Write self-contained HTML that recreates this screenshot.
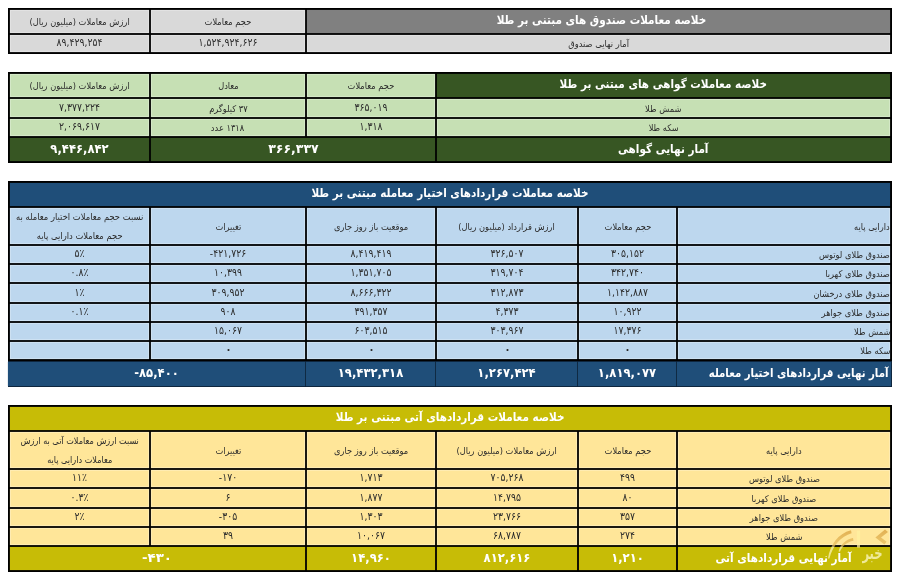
<!DOCTYPE html>
<html lang="fa" dir="ltr">
<head>
<meta charset="utf-8">
<title>خلاصه معاملات مبتنی بر طلا</title>
<style>
html,body{margin:0;padding:0;background:#fff;}
body{width:900px;height:580px;position:relative;overflow:hidden;font-family:"DejaVu Sans", "Liberation Sans", sans-serif;}
#sheet{position:absolute;left:0;top:0;width:900px;height:580px;will-change:transform;}
.k{position:absolute;}
.c{position:absolute;display:flex;align-items:center;justify-content:center;white-space:nowrap;color:#2b2b2b;direction:rtl;overflow:hidden;}
.c.r{justify-content:flex-start;}
.h,.h2,.n{box-shadow:inset 0 0 0 1px rgba(255,255,255,0.25);}
.c span{display:inline-block;}
.t{font-weight:bold;color:#fff;font-size:11.6px;}
.tt{font-weight:bold;color:#fff;font-size:11.6px;}
.tn{font-weight:bold;color:#fff;font-size:11.6px;}
.h{font-size:9.2px;}
.h2{font-size:9.3px;line-height:19px;text-align:center;}
.n{font-size:9.3px;}
.n span,.tn span{direction:ltr;unicode-bidi:bidi-override;}
.c.r span{transform-origin:right center;}
</style>
</head>
<body>
<div id="sheet">
<svg class="k" style="left:0;top:0" width="900" height="580" viewBox="0 0 900 580"><rect x="8" y="8" width="884" height="46" fill="#000"/><rect x="8" y="72" width="884" height="91" fill="#000"/><rect x="8" y="181" width="884" height="180" fill="#000"/><rect x="8" y="361" width="884" height="26" fill="#0d2238"/><rect x="8" y="405" width="884" height="167" fill="#000"/><rect x="306.9" y="9.9" width="583.2" height="23.2" fill="#808080"/><rect x="150.9" y="9.9" width="154.2" height="23.2" fill="#d9d9d9"/><rect x="9.9" y="9.9" width="139.2" height="23.2" fill="#d9d9d9"/><rect x="306.9" y="34.9" width="583.2" height="17.2" fill="#d9d9d9"/><rect x="150.9" y="34.9" width="154.2" height="17.2" fill="#d9d9d9"/><rect x="9.9" y="34.9" width="139.2" height="17.2" fill="#d9d9d9"/><rect x="436.9" y="73.9" width="453.2" height="23.2" fill="#375623"/><rect x="306.9" y="73.9" width="128.2" height="23.2" fill="#c6e0b4"/><rect x="150.9" y="73.9" width="154.2" height="23.2" fill="#c6e0b4"/><rect x="9.9" y="73.9" width="139.2" height="23.2" fill="#c6e0b4"/><rect x="436.9" y="98.9" width="453.2" height="18.2" fill="#c6e0b4"/><rect x="306.9" y="98.9" width="128.2" height="18.2" fill="#c6e0b4"/><rect x="150.9" y="98.9" width="154.2" height="18.2" fill="#c6e0b4"/><rect x="9.9" y="98.9" width="139.2" height="18.2" fill="#c6e0b4"/><rect x="436.9" y="118.9" width="453.2" height="17.2" fill="#c6e0b4"/><rect x="306.9" y="118.9" width="128.2" height="17.2" fill="#c6e0b4"/><rect x="150.9" y="118.9" width="154.2" height="17.2" fill="#c6e0b4"/><rect x="9.9" y="118.9" width="139.2" height="17.2" fill="#c6e0b4"/><rect x="436.9" y="137.9" width="453.2" height="23.2" fill="#375623"/><rect x="150.9" y="137.9" width="284.2" height="23.2" fill="#375623"/><rect x="9.9" y="137.9" width="139.2" height="23.2" fill="#375623"/><rect x="9.9" y="182.9" width="880.2" height="23.2" fill="#1f4e79"/><rect x="677.9" y="207.9" width="212.2" height="36.2" fill="#bdd7ee"/><rect x="578.9" y="207.9" width="97.2" height="36.2" fill="#bdd7ee"/><rect x="436.9" y="207.9" width="140.2" height="36.2" fill="#bdd7ee"/><rect x="306.9" y="207.9" width="128.2" height="36.2" fill="#bdd7ee"/><rect x="150.9" y="207.9" width="154.2" height="36.2" fill="#bdd7ee"/><rect x="9.9" y="207.9" width="139.2" height="36.2" fill="#bdd7ee"/><rect x="677.9" y="245.9" width="212.2" height="17.2" fill="#bdd7ee"/><rect x="578.9" y="245.9" width="97.2" height="17.2" fill="#bdd7ee"/><rect x="436.9" y="245.9" width="140.2" height="17.2" fill="#bdd7ee"/><rect x="306.9" y="245.9" width="128.2" height="17.2" fill="#bdd7ee"/><rect x="150.9" y="245.9" width="154.2" height="17.2" fill="#bdd7ee"/><rect x="9.9" y="245.9" width="139.2" height="17.2" fill="#bdd7ee"/><rect x="677.9" y="264.9" width="212.2" height="17.2" fill="#bdd7ee"/><rect x="578.9" y="264.9" width="97.2" height="17.2" fill="#bdd7ee"/><rect x="436.9" y="264.9" width="140.2" height="17.2" fill="#bdd7ee"/><rect x="306.9" y="264.9" width="128.2" height="17.2" fill="#bdd7ee"/><rect x="150.9" y="264.9" width="154.2" height="17.2" fill="#bdd7ee"/><rect x="9.9" y="264.9" width="139.2" height="17.2" fill="#bdd7ee"/><rect x="677.9" y="283.9" width="212.2" height="18.2" fill="#bdd7ee"/><rect x="578.9" y="283.9" width="97.2" height="18.2" fill="#bdd7ee"/><rect x="436.9" y="283.9" width="140.2" height="18.2" fill="#bdd7ee"/><rect x="306.9" y="283.9" width="128.2" height="18.2" fill="#bdd7ee"/><rect x="150.9" y="283.9" width="154.2" height="18.2" fill="#bdd7ee"/><rect x="9.9" y="283.9" width="139.2" height="18.2" fill="#bdd7ee"/><rect x="677.9" y="303.9" width="212.2" height="17.2" fill="#bdd7ee"/><rect x="578.9" y="303.9" width="97.2" height="17.2" fill="#bdd7ee"/><rect x="436.9" y="303.9" width="140.2" height="17.2" fill="#bdd7ee"/><rect x="306.9" y="303.9" width="128.2" height="17.2" fill="#bdd7ee"/><rect x="150.9" y="303.9" width="154.2" height="17.2" fill="#bdd7ee"/><rect x="9.9" y="303.9" width="139.2" height="17.2" fill="#bdd7ee"/><rect x="677.9" y="322.9" width="212.2" height="17.2" fill="#bdd7ee"/><rect x="578.9" y="322.9" width="97.2" height="17.2" fill="#bdd7ee"/><rect x="436.9" y="322.9" width="140.2" height="17.2" fill="#bdd7ee"/><rect x="306.9" y="322.9" width="128.2" height="17.2" fill="#bdd7ee"/><rect x="150.9" y="322.9" width="154.2" height="17.2" fill="#bdd7ee"/><rect x="9.9" y="322.9" width="139.2" height="17.2" fill="#bdd7ee"/><rect x="677.9" y="341.9" width="212.2" height="17.2" fill="#bdd7ee"/><rect x="578.9" y="341.9" width="97.2" height="17.2" fill="#bdd7ee"/><rect x="436.9" y="341.9" width="140.2" height="17.2" fill="#bdd7ee"/><rect x="306.9" y="341.9" width="128.2" height="17.2" fill="#bdd7ee"/><rect x="150.9" y="341.9" width="154.2" height="17.2" fill="#bdd7ee"/><rect x="9.9" y="341.9" width="139.2" height="17.2" fill="#bdd7ee"/><rect x="7.9" y="361.9" width="297.2" height="24.2" fill="#1f4e79"/><rect x="305.9" y="361.9" width="129.2" height="24.2" fill="#1f4e79"/><rect x="435.9" y="361.9" width="141.2" height="24.2" fill="#1f4e79"/><rect x="577.9" y="361.9" width="98.2" height="24.2" fill="#1f4e79"/><rect x="676.9" y="361.9" width="214.2" height="24.2" fill="#1f4e79"/><rect x="9.9" y="406.9" width="880.2" height="23.2" fill="#c7bc06"/><rect x="677.9" y="431.9" width="212.2" height="36.2" fill="#ffe699"/><rect x="578.9" y="431.9" width="97.2" height="36.2" fill="#ffe699"/><rect x="436.9" y="431.9" width="140.2" height="36.2" fill="#ffe699"/><rect x="306.9" y="431.9" width="128.2" height="36.2" fill="#ffe699"/><rect x="150.9" y="431.9" width="154.2" height="36.2" fill="#ffe699"/><rect x="9.9" y="431.9" width="139.2" height="36.2" fill="#ffe699"/><rect x="677.9" y="469.9" width="212.2" height="17.2" fill="#ffe699"/><rect x="578.9" y="469.9" width="97.2" height="17.2" fill="#ffe699"/><rect x="436.9" y="469.9" width="140.2" height="17.2" fill="#ffe699"/><rect x="306.9" y="469.9" width="128.2" height="17.2" fill="#ffe699"/><rect x="150.9" y="469.9" width="154.2" height="17.2" fill="#ffe699"/><rect x="9.9" y="469.9" width="139.2" height="17.2" fill="#ffe699"/><rect x="677.9" y="488.9" width="212.2" height="18.2" fill="#ffe699"/><rect x="578.9" y="488.9" width="97.2" height="18.2" fill="#ffe699"/><rect x="436.9" y="488.9" width="140.2" height="18.2" fill="#ffe699"/><rect x="306.9" y="488.9" width="128.2" height="18.2" fill="#ffe699"/><rect x="150.9" y="488.9" width="154.2" height="18.2" fill="#ffe699"/><rect x="9.9" y="488.9" width="139.2" height="18.2" fill="#ffe699"/><rect x="677.9" y="508.9" width="212.2" height="17.2" fill="#ffe699"/><rect x="578.9" y="508.9" width="97.2" height="17.2" fill="#ffe699"/><rect x="436.9" y="508.9" width="140.2" height="17.2" fill="#ffe699"/><rect x="306.9" y="508.9" width="128.2" height="17.2" fill="#ffe699"/><rect x="150.9" y="508.9" width="154.2" height="17.2" fill="#ffe699"/><rect x="9.9" y="508.9" width="139.2" height="17.2" fill="#ffe699"/><rect x="677.9" y="527.9" width="212.2" height="17.2" fill="#ffe699"/><rect x="578.9" y="527.9" width="97.2" height="17.2" fill="#ffe699"/><rect x="436.9" y="527.9" width="140.2" height="17.2" fill="#ffe699"/><rect x="306.9" y="527.9" width="128.2" height="17.2" fill="#ffe699"/><rect x="150.9" y="527.9" width="154.2" height="17.2" fill="#ffe699"/><rect x="9.9" y="527.9" width="139.2" height="17.2" fill="#ffe699"/><rect x="677.9" y="546.9" width="212.2" height="23.2" fill="#c7bc06"/><rect x="578.9" y="546.9" width="97.2" height="23.2" fill="#c7bc06"/><rect x="436.9" y="546.9" width="140.2" height="23.2" fill="#c7bc06"/><rect x="306.9" y="546.9" width="128.2" height="23.2" fill="#c7bc06"/><rect x="9.9" y="546.9" width="295.2" height="23.2" fill="#c7bc06"/></svg>
<div class="c t" style="left:307px;top:10px;width:583px;height:23px"><span style="transform:translate(3px,-1.7px) scale(0.9,1)">خلاصه معاملات صندوق های مبتنی بر طلا</span></div>
<div class="c h" style="left:151px;top:10px;width:154px;height:23px"><span style="transform:translate(0px,0px) scale(0.9,1)">حجم معاملات</span></div>
<div class="c h" style="left:10px;top:10px;width:139px;height:23px"><span style="transform:translate(0px,0px) scale(0.9,1)">ارزش معاملات (میلیون ریال)</span></div>
<div class="c h" style="left:307px;top:35px;width:583px;height:17px"><span style="transform:translate(0px,0px) scale(0.9,1)">آمار نهایی صندوق</span></div>
<div class="c n" style="left:151px;top:35px;width:154px;height:17px"><span style="transform:translate(0px,-1.6px) scale(1,1.15)">۱,۵۲۴,۹۲۴,۶۲۶</span></div>
<div class="c n" style="left:10px;top:35px;width:139px;height:17px"><span style="transform:translate(0px,-1.6px) scale(1,1.15)">۸۹,۴۲۹,۲۵۴</span></div>
<div class="c t" style="left:437px;top:74px;width:453px;height:23px"><span style="transform:translate(0px,-1.7px) scale(0.9,1)">خلاصه معاملات گواهی های مبتنی بر طلا</span></div>
<div class="c h" style="left:307px;top:74px;width:128px;height:23px"><span style="transform:translate(0px,0px) scale(0.9,1)">حجم معاملات</span></div>
<div class="c h" style="left:151px;top:74px;width:154px;height:23px"><span style="transform:translate(0px,0px) scale(0.9,1)">معادل</span></div>
<div class="c h" style="left:10px;top:74px;width:139px;height:23px"><span style="transform:translate(0px,0px) scale(0.9,1)">ارزش معاملات (میلیون ریال)</span></div>
<div class="c h" style="left:437px;top:99px;width:453px;height:18px"><span style="transform:translate(0px,0px) scale(0.9,1)">شمش طلا</span></div>
<div class="c n" style="left:307px;top:99px;width:128px;height:18px"><span style="transform:translate(0px,-1.6px) scale(1,1.15)">۳۶۵,۰۱۹</span></div>
<div class="c h" style="left:151px;top:99px;width:154px;height:18px"><span style="transform:translate(0px,0px) scale(0.9,1)">۳۷ کیلوگرم</span></div>
<div class="c n" style="left:10px;top:99px;width:139px;height:18px"><span style="transform:translate(0px,-1.6px) scale(1,1.15)">۷,۳۷۷,۲۲۴</span></div>
<div class="c h" style="left:437px;top:119px;width:453px;height:17px"><span style="transform:translate(0px,0px) scale(0.9,1)">سکه طلا</span></div>
<div class="c n" style="left:307px;top:119px;width:128px;height:17px"><span style="transform:translate(0px,-1.6px) scale(1,1.15)">۱,۳۱۸</span></div>
<div class="c h" style="left:151px;top:119px;width:154px;height:17px"><span style="transform:translate(0px,0px) scale(0.9,1)">۱۳۱۸ عدد</span></div>
<div class="c n" style="left:10px;top:119px;width:139px;height:17px"><span style="transform:translate(0px,-1.6px) scale(1,1.15)">۲,۰۶۹,۶۱۷</span></div>
<div class="c tt" style="left:437px;top:138px;width:453px;height:23px"><span style="transform:translate(0px,-1px) scale(0.9,1)">آمار نهایی گواهی</span></div>
<div class="c tn" style="left:151px;top:138px;width:284px;height:23px"><span style="transform:translate(0px,-1.3px) scale(1.08,1.1)">۳۶۶,۳۳۷</span></div>
<div class="c tn" style="left:10px;top:138px;width:139px;height:23px"><span style="transform:translate(0px,-1.3px) scale(1,1.1)">۹,۴۴۶,۸۴۲</span></div>
<div class="c t" style="left:10px;top:183px;width:880px;height:23px"><span style="transform:translate(0px,-1.7px) scale(0.9,1)">خلاصه معاملات قراردادهای اختیار معامله مبتنی بر طلا</span></div>
<div class="c h r" style="left:678px;top:208px;width:212px;height:36px"><span style="transform:translate(0px,0px) scale(0.9,1)">دارایی پایه</span></div>
<div class="c h" style="left:579px;top:208px;width:97px;height:36px"><span style="transform:translate(0px,0px) scale(0.9,1)">حجم معاملات</span></div>
<div class="c h" style="left:437px;top:208px;width:140px;height:36px"><span style="transform:translate(0px,0px) scale(0.9,1)">ارزش قرارداد (میلیون ریال)</span></div>
<div class="c h" style="left:307px;top:208px;width:128px;height:36px"><span style="transform:translate(0px,0px) scale(0.9,1)">موقعیت باز روز جاری</span></div>
<div class="c h" style="left:151px;top:208px;width:154px;height:36px"><span style="transform:translate(0px,0px) scale(0.9,1)">تغییرات</span></div>
<div class="c h2" style="left:10px;top:208px;width:139px;height:36px"><span style="transform:translate(0px,0px) scale(0.9,1)">نسبت حجم معاملات اختیار معامله به<br>حجم معاملات دارایی پایه</span></div>
<div class="c h r" style="left:678px;top:246px;width:212px;height:17px"><span style="transform:translate(0px,0px) scale(0.9,1)">صندوق طلای لوتوس</span></div>
<div class="c n" style="left:579px;top:246px;width:97px;height:17px"><span style="transform:translate(0px,-1.6px) scale(1,1.15)">۳۰۵,۱۵۲</span></div>
<div class="c n" style="left:437px;top:246px;width:140px;height:17px"><span style="transform:translate(0px,-1.6px) scale(1,1.15)">۳۲۶,۵۰۷</span></div>
<div class="c n" style="left:307px;top:246px;width:128px;height:17px"><span style="transform:translate(0px,-1.6px) scale(1,1.15)">۸,۴۱۹,۴۱۹</span></div>
<div class="c n" style="left:151px;top:246px;width:154px;height:17px"><span style="transform:translate(0px,-1.6px) scale(1,1.15)">-۴۲۱,۷۲۶</span></div>
<div class="c n" style="left:10px;top:246px;width:139px;height:17px"><span style="transform:translate(0px,-1.6px) scale(1,1.15)">۵٪</span></div>
<div class="c h r" style="left:678px;top:265px;width:212px;height:17px"><span style="transform:translate(0px,0px) scale(0.9,1)">صندوق طلای کهربا</span></div>
<div class="c n" style="left:579px;top:265px;width:97px;height:17px"><span style="transform:translate(0px,-1.6px) scale(1,1.15)">۳۴۲,۷۴۰</span></div>
<div class="c n" style="left:437px;top:265px;width:140px;height:17px"><span style="transform:translate(0px,-1.6px) scale(1,1.15)">۳۱۹,۷۰۴</span></div>
<div class="c n" style="left:307px;top:265px;width:128px;height:17px"><span style="transform:translate(0px,-1.6px) scale(1,1.15)">۱,۳۵۱,۷۰۵</span></div>
<div class="c n" style="left:151px;top:265px;width:154px;height:17px"><span style="transform:translate(0px,-1.6px) scale(1,1.15)">۱۰,۳۹۹</span></div>
<div class="c n" style="left:10px;top:265px;width:139px;height:17px"><span style="transform:translate(0px,-1.6px) scale(1,1.15)">۰.۸٪</span></div>
<div class="c h r" style="left:678px;top:284px;width:212px;height:18px"><span style="transform:translate(0px,0px) scale(0.9,1)">صندوق طلای درخشان</span></div>
<div class="c n" style="left:579px;top:284px;width:97px;height:18px"><span style="transform:translate(0px,-1.6px) scale(1,1.15)">۱,۱۴۲,۸۸۷</span></div>
<div class="c n" style="left:437px;top:284px;width:140px;height:18px"><span style="transform:translate(0px,-1.6px) scale(1,1.15)">۳۱۲,۸۷۳</span></div>
<div class="c n" style="left:307px;top:284px;width:128px;height:18px"><span style="transform:translate(0px,-1.6px) scale(1,1.15)">۸,۶۶۶,۳۲۲</span></div>
<div class="c n" style="left:151px;top:284px;width:154px;height:18px"><span style="transform:translate(0px,-1.6px) scale(1,1.15)">۳۰۹,۹۵۲</span></div>
<div class="c n" style="left:10px;top:284px;width:139px;height:18px"><span style="transform:translate(0px,-1.6px) scale(1,1.15)">۱٪</span></div>
<div class="c h r" style="left:678px;top:304px;width:212px;height:17px"><span style="transform:translate(0px,0px) scale(0.9,1)">صندوق طلای جواهر</span></div>
<div class="c n" style="left:579px;top:304px;width:97px;height:17px"><span style="transform:translate(0px,-1.6px) scale(1,1.15)">۱۰,۹۲۲</span></div>
<div class="c n" style="left:437px;top:304px;width:140px;height:17px"><span style="transform:translate(0px,-1.6px) scale(1,1.15)">۴,۳۷۳</span></div>
<div class="c n" style="left:307px;top:304px;width:128px;height:17px"><span style="transform:translate(0px,-1.6px) scale(1,1.15)">۳۹۱,۳۵۷</span></div>
<div class="c n" style="left:151px;top:304px;width:154px;height:17px"><span style="transform:translate(0px,-1.6px) scale(1,1.15)">۹۰۸</span></div>
<div class="c n" style="left:10px;top:304px;width:139px;height:17px"><span style="transform:translate(0px,-1.6px) scale(1,1.15)">۰.۱٪</span></div>
<div class="c h r" style="left:678px;top:323px;width:212px;height:17px"><span style="transform:translate(0px,0px) scale(0.9,1)">شمش طلا</span></div>
<div class="c n" style="left:579px;top:323px;width:97px;height:17px"><span style="transform:translate(0px,-1.6px) scale(1,1.15)">۱۷,۳۷۶</span></div>
<div class="c n" style="left:437px;top:323px;width:140px;height:17px"><span style="transform:translate(0px,-1.6px) scale(1,1.15)">۳۰۳,۹۶۷</span></div>
<div class="c n" style="left:307px;top:323px;width:128px;height:17px"><span style="transform:translate(0px,-1.6px) scale(1,1.15)">۶۰۳,۵۱۵</span></div>
<div class="c n" style="left:151px;top:323px;width:154px;height:17px"><span style="transform:translate(0px,-1.6px) scale(1,1.15)">۱۵,۰۶۷</span></div>
<div class="c n" style="left:10px;top:323px;width:139px;height:17px"></div>
<div class="c h r" style="left:678px;top:342px;width:212px;height:17px"><span style="transform:translate(0px,0px) scale(0.9,1)">سکه طلا</span></div>
<div class="c n" style="left:579px;top:342px;width:97px;height:17px"><span style="transform:translate(0px,-1.6px) scale(1.7,1.725)">۰</span></div>
<div class="c n" style="left:437px;top:342px;width:140px;height:17px"><span style="transform:translate(0px,-1.6px) scale(1.7,1.725)">۰</span></div>
<div class="c n" style="left:307px;top:342px;width:128px;height:17px"><span style="transform:translate(0px,-1.6px) scale(1.7,1.725)">۰</span></div>
<div class="c n" style="left:151px;top:342px;width:154px;height:17px"><span style="transform:translate(0px,-1.6px) scale(1.7,1.725)">۰</span></div>
<div class="c n" style="left:10px;top:342px;width:139px;height:17px"></div>
<div class="c tn" style="left:8px;top:362px;width:297px;height:24px"><span style="transform:translate(0px,-1.3px) scale(1,1.1)">-۸۵,۴۰۰</span></div>
<div class="c tn" style="left:306px;top:362px;width:129px;height:24px"><span style="transform:translate(0px,-1.3px) scale(1,1.1)">۱۹,۴۳۲,۳۱۸</span></div>
<div class="c tn" style="left:436px;top:362px;width:141px;height:24px"><span style="transform:translate(0px,-1.3px) scale(1,1.1)">۱,۲۶۷,۴۲۴</span></div>
<div class="c tn" style="left:578px;top:362px;width:98px;height:24px"><span style="transform:translate(0px,-1.3px) scale(1,1.1)">۱,۸۱۹,۰۷۷</span></div>
<div class="c tt r" style="left:677px;top:362px;width:214px;height:24px"><span style="transform:translate(-2.5px,-1px) scale(0.877,1)">آمار نهایی قراردادهای اختیار معامله</span></div>
<div class="c t" style="left:10px;top:407px;width:880px;height:23px"><span style="transform:translate(0px,-1.7px) scale(0.9,1)">خلاصه معاملات قراردادهای آتی مبتنی بر طلا</span></div>
<div class="c h" style="left:678px;top:432px;width:212px;height:36px"><span style="transform:translate(0px,0px) scale(0.9,1)">دارایی پایه</span></div>
<div class="c h" style="left:579px;top:432px;width:97px;height:36px"><span style="transform:translate(0px,0px) scale(0.9,1)">حجم معاملات</span></div>
<div class="c h" style="left:437px;top:432px;width:140px;height:36px"><span style="transform:translate(0px,0px) scale(0.9,1)">ارزش معاملات (میلیون ریال)</span></div>
<div class="c h" style="left:307px;top:432px;width:128px;height:36px"><span style="transform:translate(0px,0px) scale(0.9,1)">موقعیت باز روز جاری</span></div>
<div class="c h" style="left:151px;top:432px;width:154px;height:36px"><span style="transform:translate(0px,0px) scale(0.9,1)">تغییرات</span></div>
<div class="c h2" style="left:10px;top:432px;width:139px;height:36px"><span style="transform:translate(0px,0px) scale(0.873,1)">نسبت ارزش معاملات آتی به ارزش<br>معاملات دارایی پایه</span></div>
<div class="c h" style="left:678px;top:470px;width:212px;height:17px"><span style="transform:translate(0px,0px) scale(0.9,1)">صندوق طلای لوتوس</span></div>
<div class="c n" style="left:579px;top:470px;width:97px;height:17px"><span style="transform:translate(0px,-1.6px) scale(1,1.15)">۴۹۹</span></div>
<div class="c n" style="left:437px;top:470px;width:140px;height:17px"><span style="transform:translate(0px,-1.6px) scale(1,1.15)">۷۰۵,۲۶۸</span></div>
<div class="c n" style="left:307px;top:470px;width:128px;height:17px"><span style="transform:translate(0px,-1.6px) scale(1,1.15)">۱,۷۱۳</span></div>
<div class="c n" style="left:151px;top:470px;width:154px;height:17px"><span style="transform:translate(0px,-1.6px) scale(1,1.15)">-۱۷۰</span></div>
<div class="c n" style="left:10px;top:470px;width:139px;height:17px"><span style="transform:translate(0px,-1.6px) scale(1,1.15)">۱۱٪</span></div>
<div class="c h" style="left:678px;top:489px;width:212px;height:18px"><span style="transform:translate(0px,0px) scale(0.9,1)">صندوق طلای کهربا</span></div>
<div class="c n" style="left:579px;top:489px;width:97px;height:18px"><span style="transform:translate(0px,-1.6px) scale(1,1.15)">۸۰</span></div>
<div class="c n" style="left:437px;top:489px;width:140px;height:18px"><span style="transform:translate(0px,-1.6px) scale(1,1.15)">۱۴,۷۹۵</span></div>
<div class="c n" style="left:307px;top:489px;width:128px;height:18px"><span style="transform:translate(0px,-1.6px) scale(1,1.15)">۱,۸۷۷</span></div>
<div class="c n" style="left:151px;top:489px;width:154px;height:18px"><span style="transform:translate(0px,-1.6px) scale(1,1.15)">۶</span></div>
<div class="c n" style="left:10px;top:489px;width:139px;height:18px"><span style="transform:translate(0px,-1.6px) scale(1,1.15)">۰.۳٪</span></div>
<div class="c h" style="left:678px;top:509px;width:212px;height:17px"><span style="transform:translate(0px,0px) scale(0.9,1)">صندوق طلای جواهر</span></div>
<div class="c n" style="left:579px;top:509px;width:97px;height:17px"><span style="transform:translate(0px,-1.6px) scale(1,1.15)">۳۵۷</span></div>
<div class="c n" style="left:437px;top:509px;width:140px;height:17px"><span style="transform:translate(0px,-1.6px) scale(1,1.15)">۲۳,۷۶۶</span></div>
<div class="c n" style="left:307px;top:509px;width:128px;height:17px"><span style="transform:translate(0px,-1.6px) scale(1,1.15)">۱,۳۰۳</span></div>
<div class="c n" style="left:151px;top:509px;width:154px;height:17px"><span style="transform:translate(0px,-1.6px) scale(1,1.15)">-۳۰۵</span></div>
<div class="c n" style="left:10px;top:509px;width:139px;height:17px"><span style="transform:translate(0px,-1.6px) scale(1,1.15)">۲٪</span></div>
<div class="c h" style="left:678px;top:528px;width:212px;height:17px"><span style="transform:translate(0px,0px) scale(0.9,1)">شمش طلا</span></div>
<div class="c n" style="left:579px;top:528px;width:97px;height:17px"><span style="transform:translate(0px,-1.6px) scale(1,1.15)">۲۷۴</span></div>
<div class="c n" style="left:437px;top:528px;width:140px;height:17px"><span style="transform:translate(0px,-1.6px) scale(1,1.15)">۶۸,۷۸۷</span></div>
<div class="c n" style="left:307px;top:528px;width:128px;height:17px"><span style="transform:translate(0px,-1.6px) scale(1,1.15)">۱۰,۰۶۷</span></div>
<div class="c n" style="left:151px;top:528px;width:154px;height:17px"><span style="transform:translate(0px,-1.6px) scale(1,1.15)">۳۹</span></div>
<div class="c n" style="left:10px;top:528px;width:139px;height:17px"></div>
<div class="c tt" style="left:678px;top:547px;width:212px;height:23px"><span style="transform:translate(0px,-1px) scale(0.9,1)">آمار نهایی قراردادهای آتی</span></div>
<div class="c tn" style="left:579px;top:547px;width:97px;height:23px"><span style="transform:translate(0px,-1.3px) scale(1,1.1)">۱,۲۱۰</span></div>
<div class="c tn" style="left:437px;top:547px;width:140px;height:23px"><span style="transform:translate(0px,-1.3px) scale(1,1.1)">۸۱۲,۶۱۶</span></div>
<div class="c tn" style="left:307px;top:547px;width:128px;height:23px"><span style="transform:translate(0px,-1.3px) scale(1,1.1)">۱۴,۹۶۰</span></div>
<div class="c tn" style="left:10px;top:547px;width:295px;height:23px"><span style="transform:translate(0px,-1.3px) scale(1.15,1.1)">-۴۳۰</span></div>
<svg class="k" style="left:820px;top:520px" width="80" height="52" viewBox="820 520 80 52">
<defs><linearGradient id="wg" x1="0" y1="530" x2="0" y2="563" gradientUnits="userSpaceOnUse">
<stop offset="0" stop-color="#d59a36" stop-opacity="0.7"/><stop offset="0.47" stop-color="#e6bd5c" stop-opacity="0.7"/>
<stop offset="0.53" stop-color="#fff6b8" stop-opacity="0.7"/><stop offset="1" stop-color="#fffbd8" stop-opacity="0.7"/></linearGradient></defs>
<g fill="url(#wg)" stroke="none">
<path d="M828 558.5 C830 545 838 533.5 851 530.2 L851.6 533.2 C841 536 832.5 546 829.4 558.6 Z"/>
<path d="M838.6 551.5 C840 545 845.5 539.6 853 538 L853.5 540.8 C847 542 841.8 546.5 840 551.8 Z"/>
<path d="M856.8 530.6 L860.2 530.6 L860 547.4 L857 547.4 Z" fill="#fff0a0" fill-opacity="0.75"/>
<path d="M885 529.6 L888 532 L881 537.6 L886.6 541.8 L884.4 544.6 L875.4 537.6 Z"/>
</g>
<text transform="translate(872.5 558.5) scale(0.72 1.1)" text-anchor="middle" font-family="DejaVu Sans, sans-serif" font-weight="bold" font-size="16" fill="#fffbd0" fill-opacity="0.72" direction="rtl">خبر</text>
</svg>
</div>
</body></html>
